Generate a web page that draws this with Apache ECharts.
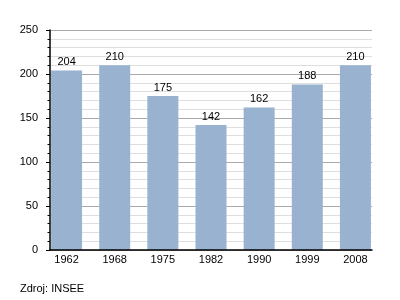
<!DOCTYPE html>
<html><head><meta charset="utf-8">
<script src="https://cdn.jsdelivr.net/npm/echarts@6/dist/echarts.min.js"></script>
<style>html,body{margin:0;padding:0;background:#fff}#c{width:400px;height:300px}</style>
</head><body><div id="c"></div>
<script>
var years = ['1962','1968','1975','1982','1990','1999','2008'];
var population = [204, 210, 175, 142, 162, 188, 210];
var yTicks = [0, 50, 100, 150, 200, 250];
var sourceNote = 'Zdroj: INSEE';

var font = 'Liberation Sans, Arial, sans-serif';
var chart = echarts.init(document.getElementById('c'), null, {renderer:'canvas'});
chart.setOption({
  animation: false,
  backgroundColor: '#fff',
  textStyle: {fontFamily: font},
  graphic: [{type:'text', left: 20, top: 283, style:{text: sourceNote, fontFamily: font, fontSize: 11, fill:'#000'}}],
  grid: [
    {left: 50, top: 30, width: 322, height: 220},
    {left: 42.5, top: 30, width: 337, height: 220}
  ],
  xAxis: [
    {gridIndex:0, type:'category', data: years, z: 10, axisLine:{lineStyle:{color:'#000', width:1.5}}, axisTick:{show:false}, axisLabel:{show:false}, splitLine:{show:false}},
    {gridIndex:1, type:'category', data: years, axisLine:{show:false}, axisTick:{show:false},
      axisLabel:{color:'#000', fontSize:11, fontFamily: font, margin: 4, interval: 0}}
  ],
  yAxis: [
    {gridIndex:0, type:'value', min: yTicks[0], max: yTicks[yTicks.length-1], interval: 50,
      axisLine:{show:true, lineStyle:{color:'#000', width:1.5}},
      axisTick:{show:true, inside:false, length:4, lineStyle:{color:'#000'}},
      minorTick:{show:true, splitNumber:5, length:2.5, lineStyle:{color:'#000'}},
      axisLabel:{color:'#000', fontSize:11, fontFamily: font, margin: 12},
      splitLine:{show:true, lineStyle:{color:'#aaa', width:1}},
      minorSplitLine:{show:true, lineStyle:{color:'#dedede', width:1}}},
    {gridIndex:1, type:'value', min: yTicks[0], max: yTicks[yTicks.length-1], show:false, splitLine:{show:false}}
  ],
  series: [{
    type:'bar', xAxisIndex:1, yAxisIndex:1, data: population, barWidth: 31,
    itemStyle:{color:'#98b2cf'},
    label:{show:true, position:'top', distance:3, color:'#000', fontSize:11, fontFamily: font}
  }]
});
</script></body></html>
